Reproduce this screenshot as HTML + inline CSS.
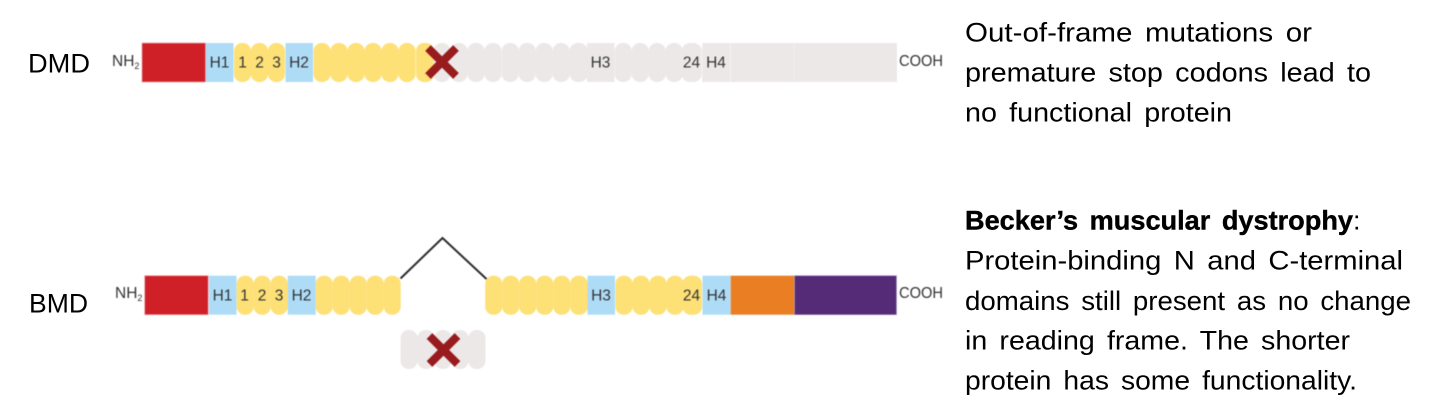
<!DOCTYPE html>
<html>
<head>
<meta charset="utf-8">
<style>
html,body{margin:0;padding:0;background:#fff;width:1445px;height:420px;overflow:hidden}
svg{display:block}
.t{font-family:"Liberation Sans",sans-serif;font-size:27px;fill:#000;word-spacing:4px}
.b{font-weight:bold;stroke:#000;stroke-width:.4px}
.l{font-family:"Liberation Sans",sans-serif;font-size:15.5px;fill:#333}
.y{fill:#fde076;rx:8px;ry:8px}
.g{fill:#ece8e8;rx:8px;ry:8px}
.s{fill:#ece8e8}
.h{fill:#aedcf7}
.d{filter:blur(.4px)}
</style>
</head>
<body>
<svg width="1445" height="420" viewBox="0 0 1445 420" xmlns="http://www.w3.org/2000/svg">
<text class="t" x="28" y="72.5" textLength="62" lengthAdjust="spacingAndGlyphs">DMD</text>
<text class="t" x="29" y="312.5" textLength="59" lengthAdjust="spacingAndGlyphs">BMD</text>
<g class="d">
<!-- DMD row -->
<text class="l" x="112" y="66">NH<tspan font-size="9" dy="3">2</tspan></text>
<rect x="142" y="43" width="63.5" height="39" fill="#cf2027" stroke="#eaa0a3" stroke-width=".7"/>
<rect class="h" x="206" y="43" width="27.5" height="39"/>
<rect class="y" x="234" y="43" width="17" height="39"/>
<rect class="y" x="251" y="43" width="17" height="39"/>
<rect class="y" x="268" y="43" width="17" height="39"/>
<rect class="h" x="285.5" y="43" width="27.5" height="39"/>
<rect class="y" x="313.5" y="43" width="17" height="39"/>
<rect class="y" x="330.5" y="43" width="17" height="39"/>
<rect class="y" x="347.5" y="43" width="17" height="39"/>
<rect class="y" x="364.5" y="43" width="17" height="39"/>
<rect class="y" x="381.5" y="43" width="17" height="39"/>
<rect class="y" x="398.5" y="43" width="17" height="39"/>
<rect class="y" x="416" y="43" width="18" height="39"/>
<rect class="g" x="433.5" y="43" width="17" height="39"/>
<rect class="g" x="450.5" y="43" width="17" height="39"/>
<rect class="g" x="467.5" y="43" width="17" height="39"/>
<rect class="g" x="484.5" y="43" width="17" height="39"/>
<rect class="g" x="501.7" y="43" width="17" height="39"/>
<rect class="g" x="518.7" y="43" width="17" height="39"/>
<rect class="g" x="535.7" y="43" width="17" height="39"/>
<rect class="g" x="552.7" y="43" width="17" height="39"/>
<rect class="g" x="569.7" y="43" width="18" height="39"/>
<rect class="s" x="587" y="43" width="27.5" height="39"/>
<rect class="g" x="614.7" y="43" width="17" height="39"/>
<rect class="g" x="631.7" y="43" width="17" height="39"/>
<rect class="g" x="648.7" y="43" width="17" height="39"/>
<rect class="g" x="665.7" y="43" width="17" height="39"/>
<rect class="g" x="681.7" y="43" width="20" height="39"/>
<rect class="s" x="702.2" y="43" width="28" height="39"/>
<rect class="s" x="730.7" y="43" width="63.5" height="39"/>
<rect class="s" x="794.5" y="43" width="102.5" height="39"/>
<path d="M428 48 L456 76 M456 48 L428 76" stroke="#981b1e" stroke-width="8" fill="none"/>
<text class="l" x="219.5" y="67.5" text-anchor="middle">H1</text>
<text class="l" x="242.5" y="67.5" text-anchor="middle">1</text>
<text class="l" x="259.5" y="67.5" text-anchor="middle">2</text>
<text class="l" x="276.5" y="67.5" text-anchor="middle">3</text>
<text class="l" x="299" y="67.5" text-anchor="middle">H2</text>
<text class="l" x="600.5" y="67.5" text-anchor="middle">H3</text>
<text class="l" x="691.5" y="67.5" text-anchor="middle">24</text>
<text class="l" x="716" y="67.5" text-anchor="middle">H4</text>
<text class="l" x="899" y="66" textLength="44" lengthAdjust="spacingAndGlyphs">COOH</text>

<!-- BMD row -->
<text class="l" x="115" y="298">NH<tspan font-size="9" dy="3">2</tspan></text>
<rect x="144.7" y="275.7" width="63.5" height="39" fill="#cf2027" stroke="#eaa0a3" stroke-width=".7"/>
<rect class="h" x="209" y="275.7" width="27.5" height="39"/>
<rect class="y" x="236.7" y="275.7" width="17" height="39"/>
<rect class="y" x="253.7" y="275.7" width="17" height="39"/>
<rect class="y" x="270.7" y="275.7" width="17" height="39"/>
<rect class="h" x="287.7" y="275.7" width="28" height="39"/>
<rect class="y" x="315.7" y="275.7" width="17" height="39"/>
<rect class="y" x="332.7" y="275.7" width="17" height="39"/>
<rect class="y" x="349.7" y="275.7" width="17" height="39"/>
<rect class="y" x="366.7" y="275.7" width="17" height="39"/>
<rect class="y" x="383.7" y="275.7" width="17" height="39"/>
<path d="M400.5 278.5 L442.5 238 L486.5 279" stroke="#2b2b2b" stroke-width="2" fill="none"/>
<rect class="y" x="485.2" y="275.7" width="17" height="39"/>
<rect class="y" x="502.2" y="275.7" width="17" height="39"/>
<rect class="y" x="519.2" y="275.7" width="17" height="39"/>
<rect class="y" x="536.2" y="275.7" width="17" height="39"/>
<rect class="y" x="553.2" y="275.7" width="17" height="39"/>
<rect class="y" x="570.2" y="275.7" width="17.5" height="39"/>
<rect class="h" x="587.5" y="275.7" width="27.5" height="39"/>
<rect class="y" x="615.5" y="275.7" width="17" height="39"/>
<rect class="y" x="632.5" y="275.7" width="17" height="39"/>
<rect class="y" x="649.5" y="275.7" width="17" height="39"/>
<rect class="y" x="666.5" y="275.7" width="17" height="39"/>
<rect class="y" x="682.5" y="275.7" width="19.5" height="39"/>
<rect class="h" x="702.5" y="275.7" width="28" height="39"/>
<rect x="730.7" y="275.7" width="63.5" height="39" fill="#ea7e23"/>
<rect x="794.5" y="275.7" width="102" height="39" fill="#552b77" stroke="#a58fbb" stroke-width=".6"/>
<text class="l" x="222.5" y="300.5" text-anchor="middle">H1</text>
<text class="l" x="244.5" y="300.5" text-anchor="middle">1</text>
<text class="l" x="262" y="300.5" text-anchor="middle">2</text>
<text class="l" x="279" y="300.5" text-anchor="middle">3</text>
<text class="l" x="301.5" y="300.5" text-anchor="middle">H2</text>
<text class="l" x="601" y="300.5" text-anchor="middle">H3</text>
<text class="l" x="691.5" y="300.5" text-anchor="middle">24</text>
<text class="l" x="716.5" y="300.5" text-anchor="middle">H4</text>
<text class="l" x="899" y="298" textLength="44" lengthAdjust="spacingAndGlyphs">COOH</text>

<!-- excised exons -->
<rect class="g" x="400.5" y="330" width="17" height="39"/>
<rect class="g" x="417.5" y="330" width="17" height="39"/>
<rect class="g" x="434.5" y="330" width="17" height="39"/>
<rect class="g" x="451.5" y="330" width="17" height="39"/>
<rect class="g" x="468.5" y="330" width="17" height="39"/>
<path d="M429.5 336 L457.5 364 M457.5 336 L429.5 364" stroke="#981b1e" stroke-width="8" fill="none"/>
</g>

<!-- right text -->
<text class="t" x="965" y="41.7" textLength="347" lengthAdjust="spacingAndGlyphs">Out-of-frame mutations or</text>
<text class="t" x="965" y="81.7" textLength="406" lengthAdjust="spacingAndGlyphs">premature stop codons lead to</text>
<text class="t" x="965" y="121.3" textLength="267" lengthAdjust="spacingAndGlyphs">no functional protein</text>
<text class="t b" x="965" y="229.3" textLength="388" lengthAdjust="spacingAndGlyphs">Becker’s muscular dystrophy</text>
<text class="t" x="1353" y="229.3">:</text>
<text class="t" x="965" y="269.3" textLength="438" lengthAdjust="spacingAndGlyphs">Protein-binding N and C-terminal</text>
<text class="t" x="965" y="310" textLength="446" lengthAdjust="spacingAndGlyphs">domains still present as no change</text>
<text class="t" x="965" y="349.5" textLength="385" lengthAdjust="spacingAndGlyphs">in reading frame. The shorter</text>
<text class="t" x="965" y="389.5" textLength="392" lengthAdjust="spacingAndGlyphs">protein has some functionality.</text>
</svg>
</body>
</html>
